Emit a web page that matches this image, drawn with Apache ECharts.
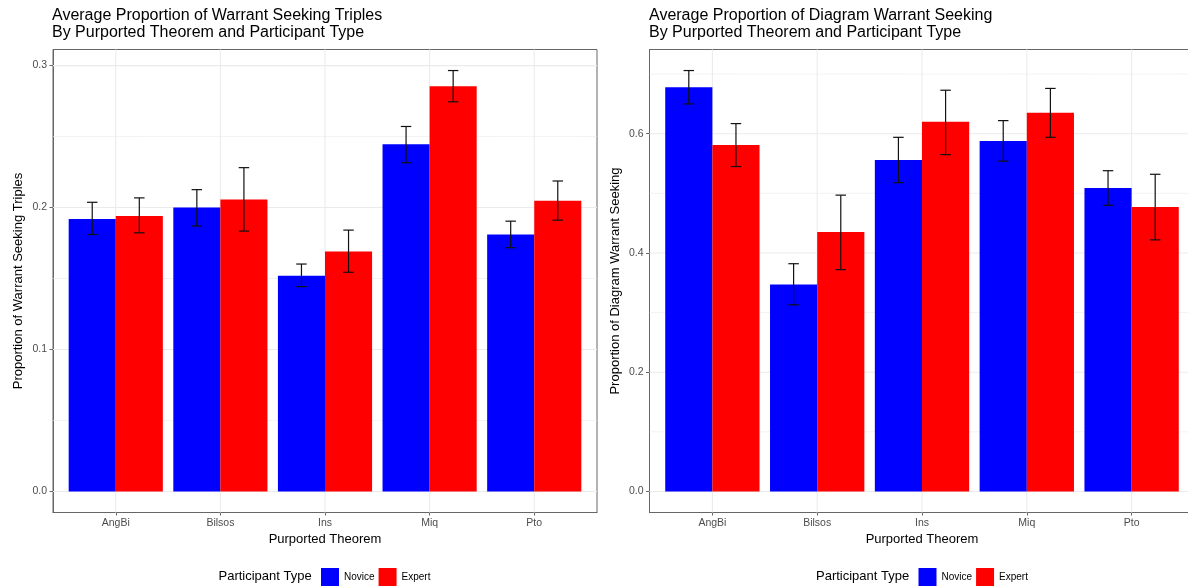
<!DOCTYPE html>
<html><head><meta charset="utf-8">
<script src="https://cdn.jsdelivr.net/npm/echarts@6/dist/echarts.min.js"></script>
<style>html,body{margin:0;padding:0;background:#fff;overflow:hidden}#c{width:1200px;height:588px}</style>
</head><body><div id="c"></div>
<script>
// ---------- data ----------
const categories = ['AngBi', 'Bilsos', 'Ins', 'Miq', 'Pto'];
const groups = ['Novice', 'Expert'];

// Left panel: Average Proportion of Warrant Seeking Triples
const triplesNovice     = [0.192, 0.200, 0.152, 0.2445, 0.181];
const triplesNoviceLow  = [0.181, 0.187, 0.1443, 0.2316, 0.1717];
const triplesNoviceHigh = [0.2037, 0.2126, 0.1602, 0.2571, 0.1904];
const triplesExpert     = [0.194, 0.2056, 0.169, 0.2855, 0.2047];
const triplesExpertLow  = [0.1822, 0.1834, 0.1544, 0.2745, 0.1911];
const triplesExpertHigh = [0.2068, 0.2281, 0.1841, 0.2965, 0.2187];

// Right panel: Average Proportion of Diagram Warrant Seeking
const diagramNovice     = [0.678, 0.347, 0.556, 0.588, 0.509];
const diagramNoviceLow  = [0.650, 0.313, 0.518, 0.554, 0.480];
const diagramNoviceHigh = [0.706, 0.382, 0.594, 0.622, 0.538];
const diagramExpert     = [0.581, 0.435, 0.620, 0.635, 0.477];
const diagramExpertLow  = [0.545, 0.372, 0.565, 0.594, 0.422];
const diagramExpertHigh = [0.617, 0.497, 0.673, 0.676, 0.532];

// tick labels
const leftYTicks  = [0, 0.1, 0.2, 0.3];
const leftYMinor  = [0.05, 0.15, 0.25];
const rightYTicks = [0, 0.2, 0.4, 0.6];
const rightYMinor = [0.1, 0.3, 0.5, 0.7];

// ---------- helpers ----------
const FONT = "'Liberation Sans', Arial, sans-serif";
const BLUE = '#0000FF', RED = '#FF0000';
const LINE = '#666';
const catIdx = categories.map((c, i) => i);
const xRange = [-0.6, categories.length - 0.4];

function yRange(highs) {
  const m = Math.max(...highs);
  return [-0.05 * m, m * 1.05];
}
const leftYR = yRange(triplesNoviceHigh.concat(triplesExpertHigh));
const rightYR = yRange(diagramNoviceHigh.concat(diagramExpertHigh));

function barRender(offset) {
  return function (params, api) {
    const x = api.value(0), v = api.value(1);
    const p0 = api.coord([x + offset, v]);
    const p1 = api.coord([x + offset + 0.45, 0]);
    return {
      type: 'rect',
      shape: { x: p0[0], y: p0[1], width: p1[0] - p0[0], height: p1[1] - p0[1] },
      style: { fill: api.visual('color') }
    };
  };
}
function errRender(params, api) {
  const cx = api.value(0) + (api.value(1) === 0 ? -0.225 : 0.225);
  const lo = api.coord([cx, api.value(2)]);
  const hi = api.coord([cx, api.value(3)]);
  const hw = api.size([0.05, 0])[0];
  const st = { stroke: '#111', lineWidth: 1.2 };
  return {
    type: 'group', children: [
      { type: 'line', shape: { x1: hi[0], y1: hi[1], x2: lo[0], y2: lo[1] }, style: st },
      { type: 'line', shape: { x1: hi[0] - hw, y1: hi[1], x2: hi[0] + hw, y2: hi[1] }, style: st },
      { type: 'line', shape: { x1: lo[0] - hw, y1: lo[1], x2: lo[0] + hw, y2: lo[1] }, style: st }
    ]
  };
}
function gridRender(yr) {
  return function (params, api) {
    const k = api.value(0), v = api.value(1);
    let a, b;
    if (k === 0) { a = api.coord([v, yr[0]]); b = api.coord([v, yr[1]]); }
    else { a = api.coord([xRange[0], v]); b = api.coord([xRange[1], v]); }
    return {
      type: 'line',
      shape: { x1: a[0], y1: a[1], x2: b[0], y2: b[1] },
      style: { stroke: '#EBEBEB', lineWidth: k === 2 ? 0.6 : 1.1 }
    };
  };
}
function gridData(major, minor) {
  return catIdx.map(i => [0, i])
    .concat(major.map(v => [1, v]))
    .concat(minor.map(v => [2, v]));
}
function errData(lowN, highN, lowE, highE) {
  return catIdx.map(i => [i, 0, lowN[i], highN[i]])
    .concat(catIdx.map(i => [i, 1, lowE[i], highE[i]]));
}

function makeX(gi) {
  return {
    gridIndex: gi, type: 'value', min: xRange[0], max: xRange[1],
    name: 'Purported Theorem', nameLocation: 'middle', nameGap: 20,
    nameTextStyle: { fontFamily: FONT, fontSize: 13, color: '#000' },
    axisLine: { show: true, onZero: false, lineStyle: { color: LINE, width: 1 } },
    axisTick: { show: true, length: 3, customValues: catIdx, lineStyle: { color: LINE } },
    axisLabel: { customValues: catIdx, formatter: v => categories[Math.round(v)], margin: 5,
      fontFamily: FONT, fontSize: 10.5, color: '#4D4D4D' },
    splitLine: { show: false }
  };
}
function makeY(gi, yr, ticks, name) {
  return {
    gridIndex: gi, type: 'value', min: yr[0], max: yr[1],
    name: name, nameLocation: 'middle', nameGap: 28, nameRotate: 90,
    nameTextStyle: { fontFamily: FONT, fontSize: 13, color: '#000' },
    axisLine: { show: true, onZero: false, lineStyle: { color: LINE, width: 1 } },
    axisTick: { show: true, length: 3.5, customValues: ticks, lineStyle: { color: LINE } },
    axisLabel: { customValues: ticks, formatter: v => v.toFixed(1), margin: 6,
      fontFamily: FONT, fontSize: 10.5, color: '#4D4D4D' },
    splitLine: { show: false }
  };
}
function panelSeries(gi, yr, major, minor, nov, exp, err) {
  return [
    { type: 'custom', name: 'grid' + gi, xAxisIndex: gi, yAxisIndex: gi, z: 1, silent: true,
      renderItem: gridRender(yr), data: gridData(major, minor) },
    { type: 'custom', name: 'Novice', xAxisIndex: gi, yAxisIndex: gi, z: 2,
      itemStyle: { color: BLUE }, renderItem: barRender(-0.45), data: catIdx.map(i => [i, nov[i]]) },
    { type: 'custom', name: 'Expert', xAxisIndex: gi, yAxisIndex: gi, z: 2,
      itemStyle: { color: RED }, renderItem: barRender(0), data: catIdx.map(i => [i, exp[i]]) },
    { type: 'custom', name: 'err' + gi, xAxisIndex: gi, yAxisIndex: gi, z: 3, silent: true,
      renderItem: errRender, data: err }
  ];
}
function makeLegend(left) {
  return {
    left: left, top: 568, orient: 'horizontal', padding: 0, itemGap: 4,
    itemWidth: 18, itemHeight: 18, icon: 'rect', data: groups,
    textStyle: { fontFamily: FONT, fontSize: 10, color: '#000' }
  };
}

const chart = echarts.init(document.getElementById('c'), null, { renderer: 'canvas' });
chart.setOption({
  animation: false,
  backgroundColor: '#fff',
  title: [
    { text: 'Average Proportion of Warrant Seeking Triples\nBy Purported Theorem and Participant Type',
      left: 52, top: 7, padding: 0,
      textStyle: { fontFamily: FONT, fontSize: 16, lineHeight: 17, fontWeight: 'normal', color: '#000' } },
    { text: 'Average Proportion of Diagram Warrant Seeking\nBy Purported Theorem and Participant Type',
      left: 649, top: 7, padding: 0,
      textStyle: { fontFamily: FONT, fontSize: 16, lineHeight: 17, fontWeight: 'normal', color: '#000' } }
  ],
  grid: [
    { left: 53, top: 49.5, width: 544, height: 463, show: true, borderColor: LINE, borderWidth: 1, backgroundColor: '#fff' },
    { left: 649.5, top: 49.5, width: 545, height: 463, show: true, borderColor: LINE, borderWidth: 1, backgroundColor: '#fff' }
  ],
  xAxis: [makeX(0), makeX(1)],
  yAxis: [
    makeY(0, leftYR, leftYTicks, 'Proportion of Warrant Seeking Triples'),
    makeY(1, rightYR, rightYTicks, 'Proportion of Diagram Warrant Seeking')
  ],
  legend: [makeLegend(321), makeLegend(918.5)],
  graphic: [
    { type: 'text', left: 218.5, top: 570, style: { text: 'Participant Type', fontFamily: FONT, fontSize: 13, fill: '#000' } },
    { type: 'text', left: 816, top: 570, style: { text: 'Participant Type', fontFamily: FONT, fontSize: 13, fill: '#000' } }
  ],
  series: panelSeries(0, leftYR, leftYTicks, leftYMinor, triplesNovice, triplesExpert,
      errData(triplesNoviceLow, triplesNoviceHigh, triplesExpertLow, triplesExpertHigh))
    .concat(panelSeries(1, rightYR, rightYTicks, rightYMinor, diagramNovice, diagramExpert,
      errData(diagramNoviceLow, diagramNoviceHigh, diagramExpertLow, diagramExpertHigh)))
});
</script>
</body></html>
